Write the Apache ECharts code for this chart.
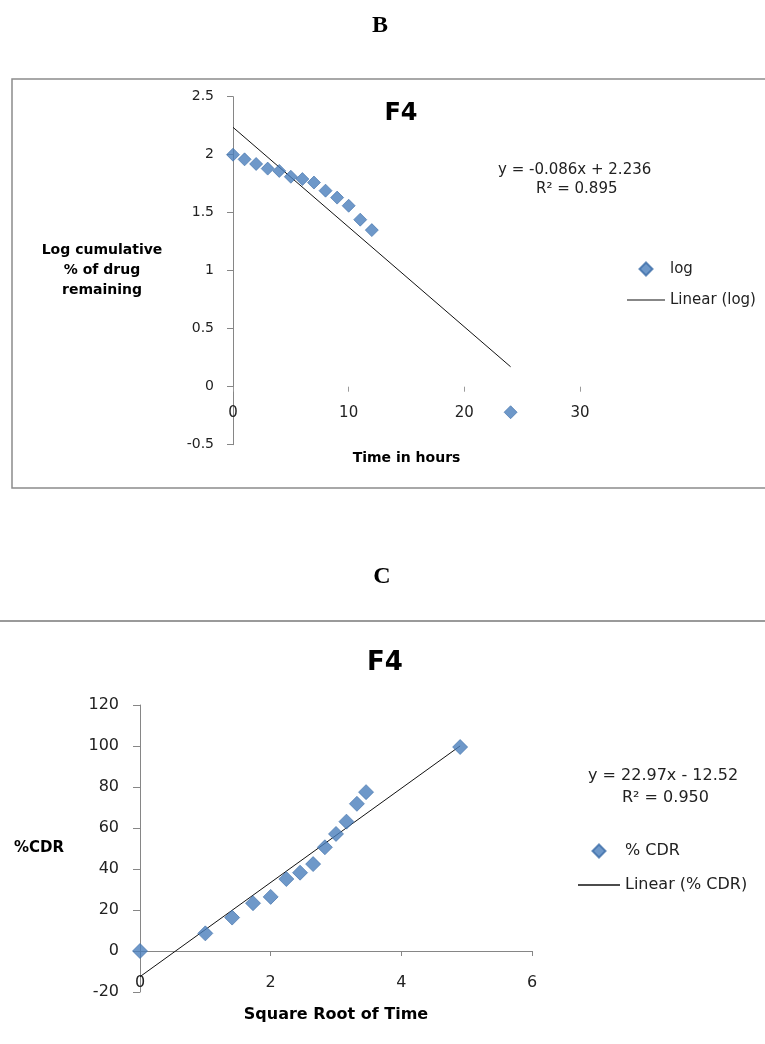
<!DOCTYPE html>
<html>
<head>
<meta charset="utf-8">
<style>
  html, body { margin: 0; padding: 0; background: #ffffff; }
  #chart { width: 765px; height: 1044px; }
</style>
<script src="https://cdn.jsdelivr.net/npm/echarts@6/dist/echarts.min.js"></script>
</head>
<body>
<div id="chart"></div>
<script>
// Panel B: log cumulative % of drug remaining vs time (first-order plot)
const hours = [0, 1, 2, 3, 4, 5, 6, 7, 8, 9, 10, 11, 12, 24];
const logRemaining = [2.0, 1.96, 1.92, 1.88, 1.86, 1.81, 1.79, 1.76, 1.69, 1.63, 1.56, 1.44, 1.35, -0.22];
const logFit = { slope: -0.086, intercept: 2.236, r2: '0.895' };

// Panel C: cumulative drug release vs square root of time (Higuchi plot)
const sqrtTime = [0, 1, 1.41, 1.73, 2, 2.24, 2.45, 2.65, 2.83, 3, 3.16, 3.32, 3.46, 4.9];
const cdr = [0, 8.6, 16.3, 23.3, 26.4, 35.1, 38.2, 42.4, 50.6, 57.1, 63.1, 71.8, 77.5, 99.5];
const cdrFit = { slope: 22.97, intercept: -12.52, r2: '0.950' };

// Axis ticks
const logYTicks = { min: -0.5, max: 2.5, interval: 0.5 };
const logXTicks = { min: 0, max: 30, interval: 10 };
const cdrYTicks = { min: -20, max: 120, interval: 20 };
const cdrXTicks = { min: 0, max: 6, interval: 2 };

const SANS = '"DejaVu Sans", sans-serif';
const SERIF = '"Liberation Serif", "Times New Roman", serif';
const BLUE = '#4a7ebb';
const BLUE_EDGE = '#3d6ea9';
const AXIS = '#868686';

function pairs(xs, ys) { return xs.map((x, i) => [x, ys[i]]); }
function fitLine(fit, x0, x1) {
  return [[x0, fit.intercept + fit.slope * x0], [x1, fit.intercept + fit.slope * x1]];
}
const diamondIcon = 'path://M0,-1L1,0L0,1L-1,0Z';
const lineIcon = 'path://M0,0L40,0L40,1.2L0,1.2Z';

const chart = echarts.init(document.getElementById('chart'), null, { renderer: 'canvas' });

// Both grids keep their x axis on the y = 0 line: the axis sits at the grid
// bottom moved up by the distance between the y minimum and zero.
const grids = [
  { left: 233, top: 96.7, width: 347, height: 348 },
  { left: 140, top: 705, width: 392, height: 287 }
];
function zeroOffset(g, t) { return -g.height * (0 - t.min) / (t.max - t.min); }

const markerStyle = { color: BLUE, borderColor: BLUE_EDGE, borderWidth: 0.8 };

chart.setOption({
  animation: false,
  backgroundColor: '#ffffff',
  title: [
    { text: 'B', left: 375, top: 9, textAlign: 'center',
      textStyle: { fontFamily: SERIF, fontWeight: 'bold', fontSize: 24, color: '#000' } },
    { text: 'F4', left: 396, top: 97, textAlign: 'center',
      textStyle: { fontFamily: SANS, fontWeight: 'bold', fontSize: 24, color: '#000' } },
    { text: 'C', left: 377, top: 560, textAlign: 'center',
      textStyle: { fontFamily: SERIF, fontWeight: 'bold', fontSize: 24, color: '#000' } },
    { text: 'F4', left: 380, top: 645, textAlign: 'center',
      textStyle: { fontFamily: SANS, fontWeight: 'bold', fontSize: 26, color: '#000' } }
  ],
  grid: grids.map(g => Object.assign({ outerBoundsMode: 'none', containLabel: false }, g)),
  xAxis: [
    {
      type: 'value', gridIndex: 0, min: logXTicks.min, max: logXTicks.max, interval: logXTicks.interval,
      position: 'bottom', offset: zeroOffset(grids[0], logYTicks),
      splitLine: { show: false },
      axisLine: { show: true, onZero: false, lineStyle: { color: 'rgba(0,0,0,0)' } },
      axisTick: { show: true, inside: false, length: 5, lineStyle: { color: '#9a9a9a' } },
      axisLabel: { margin: 19, fontFamily: SANS, fontSize: 15, color: '#222' },
      name: 'Time in hours', nameLocation: 'middle', nameGap: 65,
      nameTextStyle: { fontFamily: SANS, fontWeight: 'bold', fontSize: 14, color: '#000' }
    },
    {
      type: 'value', gridIndex: 1, min: cdrXTicks.min, max: cdrXTicks.max, interval: cdrXTicks.interval,
      position: 'bottom', offset: zeroOffset(grids[1], cdrYTicks),
      splitLine: { show: false },
      axisLine: { show: true, onZero: false, lineStyle: { color: AXIS, width: 1 } },
      axisTick: { show: true, inside: false, length: 5, lineStyle: { color: AXIS } },
      axisLabel: { margin: 24, fontFamily: SANS, fontSize: 16, color: '#222' },
      name: 'Square Root of Time', nameLocation: 'middle', nameGap: 56,
      nameTextStyle: { fontFamily: SANS, fontWeight: 'bold', fontSize: 16, color: '#000' }
    }
  ],
  yAxis: [
    {
      type: 'value', gridIndex: 0, min: logYTicks.min, max: logYTicks.max, interval: logYTicks.interval,
      splitLine: { show: false },
      axisLine: { show: true, onZero: false, lineStyle: { color: AXIS, width: 1 } },
      axisTick: { show: true, inside: false, length: 6, lineStyle: { color: AXIS } },
      axisLabel: { margin: 19, fontFamily: SANS, fontSize: 14, color: '#222' },
      name: 'Log cumulative\n% of drug\nremaining', nameLocation: 'middle', nameRotate: 0, nameGap: 131,
      nameTextStyle: { fontFamily: SANS, fontWeight: 'bold', fontSize: 14, color: '#000',
        align: 'center', verticalAlign: 'middle', lineHeight: 20 }
    },
    {
      type: 'value', gridIndex: 1, min: cdrYTicks.min, max: cdrYTicks.max, interval: cdrYTicks.interval,
      splitLine: { show: false },
      axisLine: { show: true, onZero: false, lineStyle: { color: AXIS, width: 1 } },
      axisTick: { show: true, inside: false, length: 7, lineStyle: { color: AXIS } },
      axisLabel: { margin: 21, fontFamily: SANS, fontSize: 16, color: '#222' },
      name: '%CDR', nameLocation: 'middle', nameRotate: 0, nameGap: 101,
      nameTextStyle: { fontFamily: SANS, fontWeight: 'bold', fontSize: 15, color: '#000',
        align: 'center', verticalAlign: 'middle' }
    }
  ],
  legend: [
    { orient: 'vertical', left: 622, top: 256, itemWidth: 38, itemHeight: 13, itemGap: 15,
      data: [{ name: 'log', icon: diamondIcon }, { name: 'Linear (log)', icon: lineIcon }],
      textStyle: { fontFamily: SANS, fontSize: 15, color: '#222', lineHeight: 16 } },
    { orient: 'vertical', left: 573, top: 837, itemWidth: 42, itemHeight: 13, itemGap: 16,
      data: [{ name: '% CDR', icon: diamondIcon }, { name: 'Linear (% CDR)', icon: lineIcon }],
      textStyle: { fontFamily: SANS, fontSize: 16, color: '#222', lineHeight: 18 } }
  ],
  graphic: [
    // chart frame around panel B
    { type: 'rect', silent: true, shape: { x: 12, y: 79, width: 780, height: 409 },
      style: { fill: 'none', stroke: '#8c8c8c', lineWidth: 1.5 } },
    // top edge of the panel C frame
    { type: 'line', silent: true, shape: { x1: 0, y1: 621, x2: 765, y2: 621 },
      style: { stroke: '#9a9a9a', lineWidth: 2 } },
    // trend line equations
    { type: 'text', left: 498, top: 163, silent: true,
      style: { text: 'y = ' + logFit.slope + 'x + ' + logFit.intercept, fontFamily: SANS, fontSize: 15, fill: '#222' } },
    { type: 'text', left: 536, top: 182, silent: true,
      style: { text: 'R² = ' + logFit.r2, fontFamily: SANS, fontSize: 15, fill: '#222' } },
    { type: 'text', left: 588, top: 768, silent: true,
      style: { text: 'y = ' + cdrFit.slope + 'x - ' + Math.abs(cdrFit.intercept), fontFamily: SANS, fontSize: 16, fill: '#222' } },
    { type: 'text', left: 622, top: 790, silent: true,
      style: { text: 'R² = ' + cdrFit.r2, fontFamily: SANS, fontSize: 16, fill: '#222' } }
  ],
  series: [
    { name: 'log', type: 'scatter', xAxisIndex: 0, yAxisIndex: 0,
      symbol: 'diamond', symbolSize: 13, itemStyle: markerStyle,
      data: pairs(hours, logRemaining), z: 3 },
    { name: 'Linear (log)', type: 'line', xAxisIndex: 0, yAxisIndex: 0,
      showSymbol: false, symbol: 'none', lineStyle: { color: '#111', width: 1 }, itemStyle: { color: '#111' },
      data: fitLine(logFit, hours[0], hours[hours.length - 1]), z: 2 },
    { name: '% CDR', type: 'scatter', xAxisIndex: 1, yAxisIndex: 1,
      symbol: 'diamond', symbolSize: 15, itemStyle: markerStyle,
      data: pairs(sqrtTime, cdr), z: 3 },
    { name: 'Linear (% CDR)', type: 'line', xAxisIndex: 1, yAxisIndex: 1,
      showSymbol: false, symbol: 'none', lineStyle: { color: '#111', width: 1 }, itemStyle: { color: '#111' },
      data: fitLine(cdrFit, sqrtTime[0], sqrtTime[sqrtTime.length - 1]), z: 2 }
  ]
});
</script>
</body>
</html>
